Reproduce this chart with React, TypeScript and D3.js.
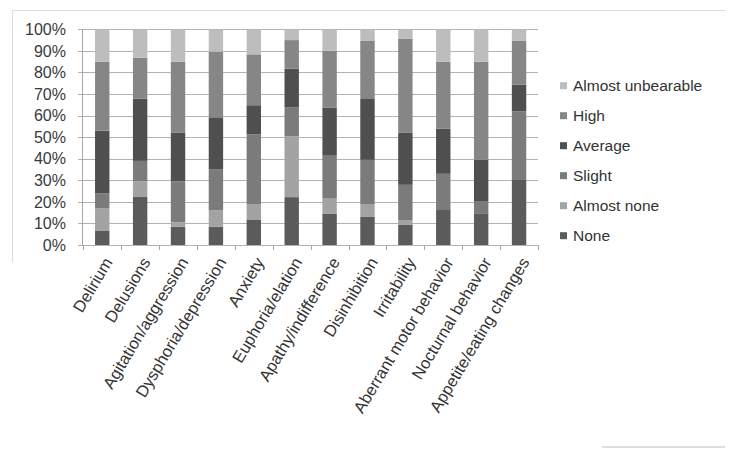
import React from "react";
import * as d3 from "d3";

const categories = [
  "Delirium",
  "Delusions",
  "Agitation/aggression",
  "Dysphoria/depression",
  "Anxiety",
  "Euphoria/elation",
  "Apathy/indifference",
  "Disinhibition",
  "Irritability",
  "Aberrant motor behavior",
  "Nocturnal behavior",
  "Appetite/eating changes",
];

const seriesNames = ["None", "Almost none", "Slight", "Average", "High", "Almost unbearable"];

const none = [6.5, 22.5, 8.5, 8.5, 11.6, 22.2, 14.4, 13.2, 9.3, 16.6, 14.7, 30.5];
const almostNone = [10.5, 7, 2, 7.5, 7.4, 28.2, 7.1, 5.8, 2.3, 0, 0, 0];
const slight = [7, 9.5, 19, 19.2, 32.3, 13.5, 19.9, 20.5, 16.3, 16.4, 5.4, 31.5];
const average = [29, 28.8, 22.5, 24, 13.5, 17.8, 22.2, 28.5, 24.1, 21, 19.4, 12.4];
const high = [32, 19, 33, 30.4, 23.6, 13.3, 26.4, 26.6, 43.7, 31, 45.5, 20.2];
const almostUnbearable = [15, 13.2, 15, 10.4, 11.6, 5, 10, 5.4, 4.3, 15, 15, 5.4];

const yTicks = [0, 10, 20, 30, 40, 50, 60, 70, 80, 90, 100];

const seriesValues = [none, almostNone, slight, average, high, almostUnbearable];
const colors = ["#5b5b5b", "#a3a3a3", "#7b7b7b", "#4f4f4f", "#868686", "#bdbdbd"];

export default function App() {
  const W = 730;
  const H = 453;
  const x0 = 83.3;
  const x1 = 538;
  const yTop = 29.3;
  const yBot = 245;

  const x = d3.scaleBand<string>().domain(categories).range([x0, x1]).paddingInner(0.62).paddingOuter(0.31);
  const y = d3.scaleLinear().domain([0, 100]).range([yBot, yTop]);

  const table = categories.map((c, i) => {
    const row: any = { cat: c };
    seriesNames.forEach((s, k) => (row[s] = seriesValues[k][i]));
    return row;
  });
  const stacked = d3.stack<any>().keys(seriesNames)(table);

  const font = "'Liberation Sans', Arial, sans-serif";
  const step = (x1 - x0) / categories.length;

  return (
    <svg width={W} height={H} style={{ position: "absolute", left: 0, top: 0, background: "#fff" }}>
      {/* outer frame fragments */}
      <line x1={12} y1={10.5} x2={725} y2={10.5} stroke="#dcdcdc" strokeWidth={1} />
      <line x1={12.5} y1={10} x2={12.5} y2={262} stroke="#dcdcdc" strokeWidth={1} />
      <line x1={602} y1={447} x2={725} y2={447} stroke="#dedede" strokeWidth={2} />

      {/* gridlines */}
      {yTicks.map((t) => (
        <line key={t} x1={78} x2={x1} y1={Math.round(y(t)) + 0.5} y2={Math.round(y(t)) + 0.5} stroke="#b3b3b3" strokeWidth={1} />
      ))}
      {/* y axis line */}
      <line x1={82.5} x2={82.5} y1={y(100)} y2={yBot + 0.5} stroke="#a8a8a8" />
      {/* x ticks */}
      {d3.range(categories.length + 1).map((i) => (
        <line key={i} x1={Math.round(x0 + i * step) + 0.5} x2={Math.round(x0 + i * step) + 0.5} y1={yBot} y2={yBot + 5} stroke="#a8a8a8" />
      ))}

      {/* bars */}
      {stacked.map((layer, k) => (
        <g key={layer.key} fill={colors[k]}>
          {layer.map((d, i) => {
            const h = y(d[0]) - y(d[1]);
            if (h <= 0) return null;
            return <rect key={i} x={x(categories[i])} y={y(d[1])} width={x.bandwidth()} height={h} />;
          })}
        </g>
      ))}

      {/* y labels */}
      {yTicks.map((t) => (
        <text key={t} x={66} y={y(t)} dy="0.36em" textAnchor="end" fontFamily={font} fontSize={16} fill="#3a3a3a">
          {t}%
        </text>
      ))}

      {/* category labels */}
      {categories.map((c) => {
        const cx = (x(c) as number) + x.bandwidth() / 2 + 6;
        const cy = 259;
        return (
          <text key={c} x={cx} y={cy} textAnchor="end" transform={`rotate(-59 ${cx} ${cy})`} fontFamily={font} fontSize={16.5} fill="#333" dy="0.35em">
            {c}
          </text>
        );
      })}

      {/* legend */}
      {seriesNames
        .slice()
        .reverse()
        .map((s, j) => {
          const k = seriesNames.length - 1 - j;
          const cy = 85.7 + j * 30;
          return (
            <g key={s}>
              <rect x={560} y={cy - 3.5} width={7} height={7} fill={colors[k]} />
              <text x={573} y={cy} dy="0.36em" fontFamily={font} fontSize={15.5} fill="#333">
                {s}
              </text>
            </g>
          );
        })}
    </svg>
  );
}
